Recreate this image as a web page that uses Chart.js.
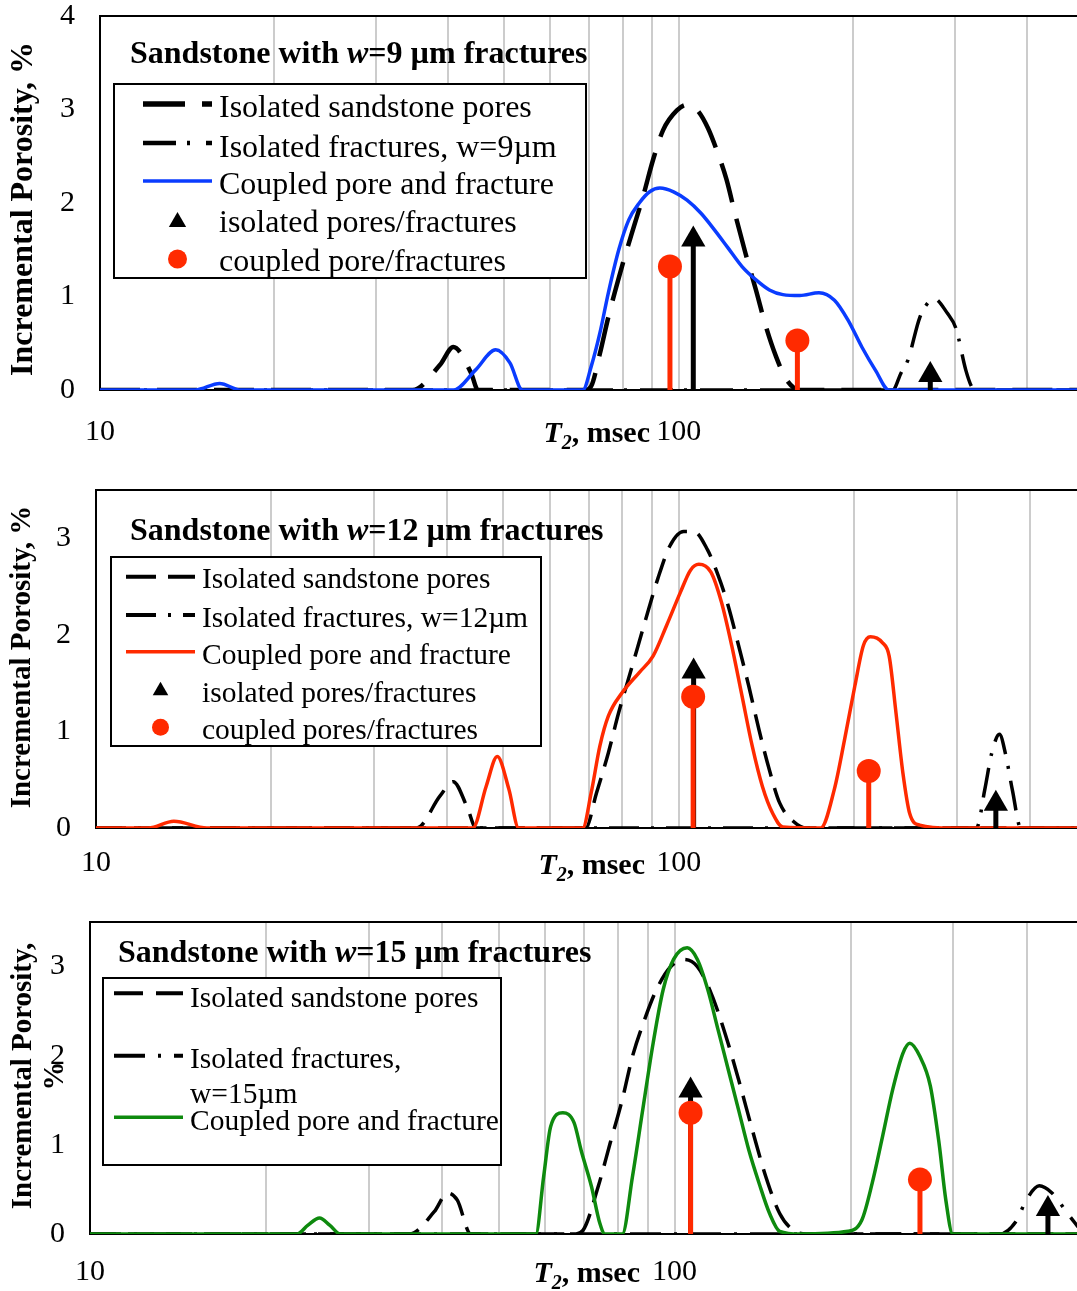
<!DOCTYPE html>
<html>
<head>
<meta charset="utf-8">
<script src="https://cdn.jsdelivr.net/npm/chart.js@4.4.1/dist/chart.umd.min.js"></script>
<style>
  body { margin: 0; background: #fff; }
  #wrap { position: relative; width: 1077px; height: 1291px; overflow: hidden; }
  canvas { position: absolute; left: 0; }
</style>
</head>
<body>
<div id="wrap">
  <canvas id="c1" width="1077" height="462" style="top:0"></canvas>
  <canvas id="c2" width="1077" height="420" style="top:470px"></canvas>
  <canvas id="c3" width="1077" height="391" style="top:900px"></canvas>
</div>
<script>
// T2 distributions (T2 in msec, incremental porosity in %)

const FONT = "'Liberation Serif', 'Times New Roman', serif";
const BLUE = '#0a3cff';
const RED = '#ff2a00';
const GREEN = '#0e8a0e';

// shared log x axis: gridlines and the two labelled ticks
const xGridT2 = [10, 20, 30, 40, 50, 60, 70, 80, 90, 100, 200, 300, 400];
const xLabelT2 = [10, 100];

// ---- panel 1: w = 9 um ----
const p1PoresT2 = [10, 34.7, 38.7, 40.8, 43.8, 45.0, 68.9, 70.6, 73.1, 75.6, 79.8, 83.7, 86.8, 90.3, 94.0, 99.3, 103.4, 107.8, 112.4, 116.9, 121.0, 125.1, 130.5, 136.0, 141.5, 147.3, 153.6, 162.0, 490];
const p1PoresVal = [0, 0, 0.27, 0.46, 0.18, 0, 0, 0.04, 0.39, 0.78, 1.32, 1.75, 2.07, 2.46, 2.78, 2.99, 3.05, 2.99, 2.80, 2.53, 2.25, 1.89, 1.46, 1.07, 0.68, 0.36, 0.11, 0, 0];
const p1FracT2 = [10, 234.4, 242.2, 249, 261.2, 272.2, 275.9, 291.4, 301.4, 313.6, 321.2, 326, 490];
const p1FracVal = [0, 0, 0.18, 0.32, 0.78, 0.96, 0.98, 0.82, 0.66, 0.21, 0.03, 0, 0];
const p1CoupledT2 = [10, 14.6, 16.1, 17.5, 40.8, 44.5, 48.3, 51.1, 53.7, 68.3, 70.6, 73.1, 75.6, 78.8, 82.0, 85.5, 89.1, 92.8, 98.0, 103.4, 109.3, 115.4, 121.7, 128.7, 135.9, 143.5, 151.4, 162.0, 174.8, 185.9, 196.1, 207.3, 218.9, 230.9, 490];
const p1CoupledVal = [0, 0, 0.07, 0, 0, 0.21, 0.43, 0.29, 0, 0, 0.25, 0.61, 1.04, 1.50, 1.82, 2.0, 2.12, 2.16, 2.12, 2.03, 1.89, 1.71, 1.52, 1.32, 1.18, 1.07, 1.02, 1.01, 1.04, 0.96, 0.75, 0.46, 0.21, 0, 0];
const p1DotT2 = [96.6, 160.4];
const p1DotVal = [1.32, 0.53];
const p1TriT2 = [106.0, 272.2];
const p1TriVal = [1.61, 0.16];

// ---- panel 2: w = 12 um ----
const p2PoresT2 = [10, 35.5, 38.9, 41.0, 43.3, 44.9, 69.2, 72.2, 75.7, 78.8, 83.2, 87.8, 92.0, 96.5, 101.9, 106.1, 112.0, 116.7, 121.4, 126.6, 131.8, 137.2, 143.0, 148.9, 157.1, 165.8, 490];
const p2PoresVal = [0, 0, 0.33, 0.48, 0.22, 0, 0, 0.36, 0.78, 1.19, 1.68, 2.17, 2.58, 2.92, 3.07, 3.07, 2.88, 2.62, 2.31, 1.89, 1.47, 1.02, 0.60, 0.26, 0.07, 0, 0];
const p2FracT2 = [10, 324, 334.9, 344.3, 354.8, 363.6, 373.5, 386, 490];
const p2FracVal = [0, 0, 0.40, 0.78, 0.97, 0.76, 0.39, 0, 0];
const p2CoupledT2 = [10, 12.3, 13.6, 15.5, 44.3, 46.7, 48.8, 51.1, 53.1, 68.4, 70.7, 73.2, 75.7, 79.9, 85.5, 90.3, 95.3, 100.6, 104.7, 108.2, 113.5, 118.3, 123.2, 128.3, 133.6, 139.1, 144.9, 150.8, 175.1, 184.8, 192.5, 200.4, 207.3, 213.1, 223.4, 229.5, 235.8, 242.3, 248.9, 259.0, 292.9, 490];
const p2CoupledVal = [0, 0, 0.07, 0, 0, 0.43, 0.74, 0.40, 0, 0, 0.36, 0.85, 1.16, 1.40, 1.61, 1.78, 2.10, 2.44, 2.67, 2.73, 2.65, 2.34, 1.89, 1.37, 0.85, 0.43, 0.15, 0.01, 0, 0.40, 0.92, 1.47, 1.89, 1.98, 1.92, 1.78, 1.19, 0.57, 0.15, 0.03, 0, 0];
const p2DotT2 = [105.8, 211.7];
const p2DotVal = [1.36, 0.59];
const p2TriT2 = [106.0, 349.8];
const p2TriVal = [1.62, 0.25];

// ---- panel 3: w = 15 um ----
const p3PoresT2 = [10, 35.2, 38.8, 40.9, 42.5, 44.8, 67.5, 69.7, 74.0, 77.6, 81.4, 84.7, 88.8, 93.1, 98.2, 103.7, 109.4, 115.5, 122.0, 128.7, 135.8, 143.3, 151.3, 159.7, 168.5, 490];
const p3PoresVal = [0, 0, 0.25, 0.46, 0.38, 0, 0, 0.04, 0.53, 1.02, 1.51, 1.99, 2.40, 2.74, 2.99, 3.08, 3.00, 2.70, 2.25, 1.73, 1.17, 0.64, 0.23, 0.04, 0, 0];
const p3FracT2 = [10, 360, 383.7, 399.6, 420.6, 442.2, 472.8, 490];
const p3FracVal = [0, 0, 0.14, 0.38, 0.54, 0.46, 0.21, 0.08];
const p3CoupledT2 = [10, 22.6, 23.6, 24.7, 25.7, 26.8, 57.9, 59.7, 61.4, 64.4, 67.3, 69.2, 72.1, 74.5, 76.0, 81.4, 84.7, 88.2, 91.9, 95.6, 99.6, 105.1, 109.4, 114.0, 118.7, 123.6, 128.7, 134.0, 139.5, 145.4, 151.3, 163.8, 198.1, 209.2, 217.8, 226.8, 236.1, 245.9, 252.6, 262.9, 273.9, 283.4, 291.1, 299.1, 490];
const p3CoupledVal = [0, 0, 0.10, 0.18, 0.10, 0, 0, 0.64, 1.21, 1.36, 1.25, 0.94, 0.53, 0.12, 0, 0, 0.64, 1.39, 2.14, 2.74, 3.08, 3.21, 3.08, 2.74, 2.29, 1.84, 1.39, 0.94, 0.57, 0.23, 0.03, 0, 0.03, 0.16, 0.57, 1.09, 1.62, 2.03, 2.14, 1.99, 1.66, 1.02, 0.38, 0, 0];
const p3DotT2 = [106.5, 262.9];
const p3DotVal = [1.36, 0.61];
const p3TriT2 = [106.5, 435.2];
const p3TriVal = [1.61, 0.28];

function pts(t2, vals) {
    return t2.map((t, i) => ({ x: t, y: vals[i] }));
}

// smooth curve, like Excel's smoothed scatter line
function curve(t2, vals, color, width, dash, order) {
    return {
        data: pts(t2, vals),
        borderColor: color,
        borderWidth: width,
        borderDash: dash,
        pointRadius: 0,
        fill: false,
        cubicInterpolationMode: 'monotone',
        order: order
    };
}

// vertical stems with a marker on top (circles red, arrows black)
function stems(t2, vals, color, style, radius, order) {
    const out = t2.map((t, i) => ({
        data: [{ x: t, y: 0 }, { x: t, y: vals[i] }],
        borderColor: color,
        borderWidth: 5,
        pointRadius: 0,
        order: order + 1
    }));
    out.push({
        data: pts(t2, vals),
        showLine: false,
        pointStyle: style,
        pointRadius: radius,
        pointBackgroundColor: color,
        pointBorderColor: color,
        pointBorderWidth: 0,
        order: order
    });
    return out;
}

function decor(o) {
    return {
        id: 'decor',
        beforeDatasetsDraw(chart) {
            const { ctx, chartArea: a } = chart;
            ctx.save();
            ctx.strokeStyle = '#000';
            ctx.lineWidth = 2;
            ctx.beginPath();
            ctx.moveTo(a.right + 5, a.top);
            ctx.lineTo(a.left, a.top);
            ctx.lineTo(a.left, a.bottom);
            ctx.lineTo(a.right + 5, a.bottom);
            ctx.stroke();
            ctx.restore();
        },
        afterDraw(chart) {
            const ctx = chart.ctx;
            ctx.save();
            ctx.fillStyle = '#000';
            ctx.textBaseline = 'alphabetic';
            ctx.textAlign = 'left';

            // panel title with italic w
            let x = o.title.x;
            [['Sandstone with ', 'bold'], ['w', 'italic bold'], [o.title.rest, 'bold']].forEach(([s, st]) => {
                ctx.font = `${st} ${o.title.size}px ${FONT}`;
                ctx.fillText(s, x, o.title.y);
                x += ctx.measureText(s).width;
            });

            // x title: T2, msec
            const xt = o.xTitle;
            ctx.font = `italic bold 30px ${FONT}`;
            const wT = ctx.measureText('T').width;
            ctx.font = `italic bold 20px ${FONT}`;
            const w2 = ctx.measureText('2').width;
            ctx.font = `bold 30px ${FONT}`;
            const wr = ctx.measureText(', msec').width;
            x = xt.right - (wT + w2 + wr);
            ctx.font = `italic bold 30px ${FONT}`;
            ctx.fillText('T', x, xt.y);
            ctx.font = `italic bold 20px ${FONT}`;
            ctx.fillText('2', x + wT, xt.y + 7);
            ctx.font = `bold 30px ${FONT}`;
            ctx.fillText(', msec', x + wT + w2, xt.y);

            // y title (rotated, may be two lines)
            const yt = o.yTitle;
            ctx.save();
            ctx.translate(yt.x, yt.y);
            ctx.rotate(-Math.PI / 2);
            ctx.textAlign = 'center';
            ctx.textBaseline = 'middle';
            ctx.font = `bold ${yt.size}px ${FONT}`;
            yt.lines.forEach((s, i) => ctx.fillText(s, 0, i * yt.gap));
            ctx.restore();

            // legend box
            const L = o.legend;
            ctx.fillStyle = '#fff';
            ctx.fillRect(L.x, L.y, L.w, L.h);
            ctx.strokeStyle = '#000';
            ctx.lineWidth = 2;
            ctx.strokeRect(L.x, L.y, L.w, L.h);
            L.rows.forEach(r => {
                if (r.kind === 'line') {
                    ctx.save();
                    ctx.strokeStyle = r.color;
                    ctx.lineWidth = r.width;
                    ctx.setLineDash(r.dash || []);
                    ctx.beginPath();
                    ctx.moveTo(L.x0, r.y);
                    ctx.lineTo(L.x1, r.y);
                    ctx.stroke();
                    ctx.restore();
                } else if (r.kind === 'tri') {
                    const c = (L.x0 + L.x1) / 2, s = r.r;
                    ctx.fillStyle = '#000';
                    ctx.beginPath();
                    ctx.moveTo(c, r.y - s);
                    ctx.lineTo(c + s * 0.866, r.y + s / 2);
                    ctx.lineTo(c - s * 0.866, r.y + s / 2);
                    ctx.closePath();
                    ctx.fill();
                } else if (r.kind === 'dot') {
                    ctx.fillStyle = RED;
                    ctx.beginPath();
                    ctx.arc((L.x0 + L.x1) / 2, r.y, r.r, 0, Math.PI * 2);
                    ctx.fill();
                }
                ctx.fillStyle = '#000';
                ctx.font = `${L.size}px ${FONT}`;
                ctx.fillText(r.text, L.tx, r.ty);
            });
            ctx.restore();
        }
    };
}

function makePanel(id, o) {
    return new Chart(document.getElementById(id), {
        type: 'line',
        data: { datasets: o.datasets },
        options: {
            responsive: false,
            animation: false,
            events: [],
            layout: { autoPadding: false, padding: { top: o.top, left: 0, right: 0, bottom: 0 } },
            plugins: { legend: { display: false }, tooltip: { enabled: false } },
            scales: {
                x: {
                    type: 'logarithmic',
                    min: 10,
                    max: o.xMax,
                    afterBuildTicks: s => { s.ticks = xGridT2.map(v => ({ value: v })); },
                    afterFit: s => { s.height = o.xHeight; },
                    grid: { color: '#cccccc', lineWidth: 2, drawTicks: false },
                    border: { display: false },
                    ticks: {
                        autoSkip: false,
                        maxRotation: 0,
                        minRotation: 0,
                        padding: o.xPad,
                        color: '#000',
                        font: { family: FONT, size: 30 },
                        callback: v => (xLabelT2.includes(v) ? String(v) : '')
                    }
                },
                y: {
                    min: 0,
                    max: o.yMax,
                    afterBuildTicks: s => { s.ticks = o.yTicks.map(v => ({ value: v })); },
                    afterFit: s => { s.width = o.left; },
                    // tick marks hidden, tickLength only spaces the labels from the frame
                    grid: { display: false, drawTicks: true, tickLength: 25 },
                    border: { display: false },
                    ticks: { padding: 0, color: '#000', font: { family: FONT, size: 30, lineHeight: 1 } }
                }
            }
        },
        plugins: [decor(o)]
    });
}

makePanel('c1', {
    top: 16, left: 100, xHeight: 72, xPad: 24, xMax: 488, yMax: 4, yTicks: [0, 1, 2, 3, 4],
    datasets: [
        ...stems(p1DotT2, p1DotVal, RED, 'circle', 12, 0),
        ...stems(p1TriT2, p1TriVal, '#000', 'triangle', 14, 2),
        curve(p1CoupledT2, p1CoupledVal, BLUE, 3.5, [], 4),
        curve(p1FracT2, p1FracVal, '#000', 3.5, [33, 11, 3, 13], 5),
        curve(p1PoresT2, p1PoresVal, '#000', 4.5, [40, 17], 6)
    ],
    title: { x: 130, y: 63, size: 32, rest: '=9 µm fractures' },
    xTitle: { right: 650, y: 442 },
    yTitle: { x: 24, y: 209, size: 32, gap: 32, lines: ['Incremental Porosity, %'] },
    legend: {
        x: 114, y: 84, w: 472, h: 194, x0: 143, x1: 212, tx: 219, size: 32,
        rows: [
            { kind: 'line', y: 104, color: '#000', width: 5.5, dash: [42, 17], text: 'Isolated sandstone pores', ty: 117 },
            { kind: 'line', y: 143, color: '#000', width: 4.5, dash: [33, 11, 3, 16], text: 'Isolated fractures, w=9µm', ty: 157 },
            { kind: 'line', y: 181, color: BLUE, width: 3.5, text: 'Coupled pore and fracture', ty: 194 },
            { kind: 'tri', y: 222, r: 10, text: 'isolated pores/fractures', ty: 232 },
            { kind: 'dot', y: 259, r: 9.5, text: 'coupled pore/fractures', ty: 271 }
        ]
    }
});

makePanel('c2', {
    top: 20, left: 96, xHeight: 62, xPad: 17, xMax: 482, yMax: 3.5, yTicks: [0, 1, 2, 3],
    datasets: [
        ...stems(p2DotT2, p2DotVal, RED, 'circle', 12, 0),
        ...stems(p2TriT2, p2TriVal, '#000', 'triangle', 14, 2),
        curve(p2CoupledT2, p2CoupledVal, RED, 3.5, [], 4),
        curve(p2FracT2, p2FracVal, '#000', 3.5, [30, 12, 3, 12], 5),
        curve(p2PoresT2, p2PoresVal, '#000', 3.5, [26, 12], 6)
    ],
    title: { x: 130, y: 70, size: 32, rest: '=12 µm fractures' },
    xTitle: { right: 645, y: 404 },
    yTitle: { x: 23, y: 187, size: 29, gap: 32, lines: ['Incremental Porosity, %'] },
    legend: {
        x: 111, y: 87, w: 430, h: 189, x0: 126, x1: 195, tx: 202, size: 29.5,
        rows: [
            { kind: 'line', y: 106.7, color: '#000', width: 4, dash: [30, 12], text: 'Isolated sandstone pores', ty: 118 },
            { kind: 'line', y: 145, color: '#000', width: 4, dash: [30, 12, 3, 12], text: 'Isolated fractures, w=12µm', ty: 156.7 },
            { kind: 'line', y: 181.7, color: RED, width: 3.5, text: 'Coupled pore and fracture', ty: 194 },
            { kind: 'tri', y: 220.7, r: 9, text: 'isolated pores/fractures', ty: 231.7 },
            { kind: 'dot', y: 257.3, r: 8.5, text: 'coupled pores/fractures', ty: 269.3 }
        ]
    }
});

makePanel('c3', {
    top: 22, left: 90, xHeight: 57, xPad: 20, xMax: 488, yMax: 3.5, yTicks: [0, 1, 2, 3],
    datasets: [
        ...stems(p3DotT2, p3DotVal, RED, 'circle', 12, 0),
        ...stems(p3TriT2, p3TriVal, '#000', 'triangle', 14, 2),
        curve(p3CoupledT2, p3CoupledVal, GREEN, 3.5, [], 4),
        curve(p3FracT2, p3FracVal, '#000', 3.5, [31, 13, 3, 13], 5),
        curve(p3PoresT2, p3PoresVal, '#000', 3.5, [26, 12], 6)
    ],
    title: { x: 118, y: 62, size: 32, rest: '=15 µm fractures' },
    xTitle: { right: 640, y: 382 },
    yTitle: { x: 24, y: 176, size: 29, gap: 32, lines: ['Incremental Porosity,', '%'] },
    legend: {
        x: 103, y: 78, w: 398, h: 187, x0: 114, x1: 183, tx: 190, size: 29.5,
        rows: [
            { kind: 'line', y: 93.3, color: '#000', width: 4, dash: [29, 13], text: 'Isolated sandstone pores', ty: 106.7 },
            { kind: 'line', y: 155.7, color: '#000', width: 4, dash: [31, 13, 3, 13], text: 'Isolated fractures,', ty: 168.3 },
            { kind: 'text', text: 'w=15µm', ty: 202.7 },
            { kind: 'line', y: 217.3, color: GREEN, width: 3.5, text: 'Coupled pore and fracture', ty: 230 }
        ]
    }
});
</script>
</body>
</html>
